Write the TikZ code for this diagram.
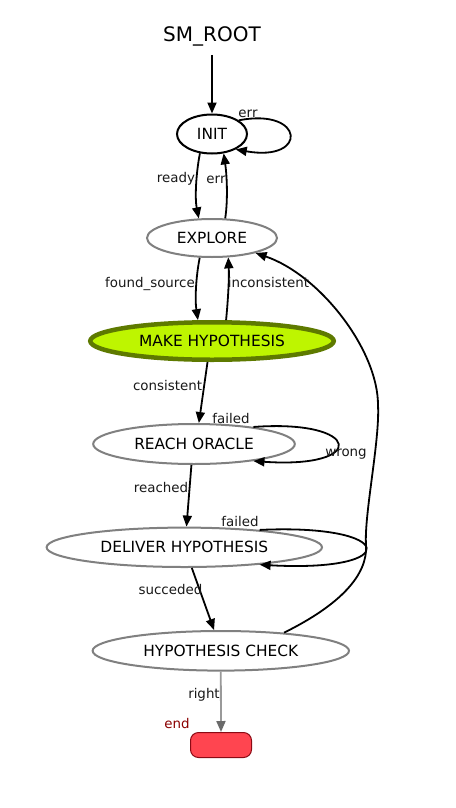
\documentclass[tikz,border=0pt]{standalone}
\usepackage{fontspec}
\setmainfont{DejaVu Sans}
\usetikzlibrary{shapes.geometric,arrows.meta}
\definecolor{edgegray}{HTML}{808080}
\definecolor{hypfill}{HTML}{BEF500}
\definecolor{hypdraw}{HTML}{5E7A00}
\definecolor{endfill}{HTML}{FF4550}
\definecolor{enddraw}{HTML}{8B0A14}
\definecolor{endtext}{HTML}{8B0000}
\definecolor{rightgray}{HTML}{999999}
\definecolor{tipgray}{HTML}{6A6A6A}
\begin{document}
\begin{tikzpicture}[x=1pt,y=1pt,
  st/.style={ellipse, draw=edgegray, line width=2pt, inner sep=0pt, font=\fontsize{15.4}{18}\selectfont},
  lbl/.style={anchor=mid, inner sep=0pt, font=\fontsize{13.4}{16}\selectfont, text=black!90},
  edge/.style={line width=1.8pt, -{Triangle[length=11pt,width=9pt]}},
]
\useasboundingbox (0,0) rectangle (455,-808);
\fill[white] (0,0) rectangle (455,-808);

% states
\node[anchor=base, inner sep=0pt, font=\fontsize{20}{24}\selectfont] (root) at (212,-41.8) {SM\_ROOT};
\coordinate (rootout) at (212,-55);
\node[st, draw=black, minimum width=70pt, minimum height=39pt] (INIT) at (212,-134) {INIT};
\node[st, minimum width=130pt, minimum height=38pt] (EXPLORE) at (212,-238) {EXPLORE};
\node[st, draw=hypdraw, fill=hypfill, line width=4.5pt, minimum width=243.5pt, minimum height=37.5pt] (MAKE) at (212,-341) {MAKE HYPOTHESIS};
\node[st, minimum width=201.6pt, minimum height=40pt] (REACH) at (194,-444) {REACH ORACLE};
\node[st, minimum width=275.4pt, minimum height=39.4pt] (DELIVER) at (184.3,-547.3) {DELIVER HYPOTHESIS};
\node[st, minimum width=256.4pt, minimum height=39.6pt] (CHECK) at (220.8,-650.8) {HYPOTHESIS CHECK};
\node[draw=enddraw, fill=endfill, rounded corners=8pt, line width=1pt, minimum width=61pt, minimum height=25pt, inner sep=0pt] (END) at (221,-745) {};

% transitions
\draw[edge] (rootout) -- (INIT.north);
\draw[edge] (INIT.27) .. controls +(66,13) and +(73,-13) .. (INIT.-33);
\draw[edge] (INIT.-122) .. controls +(-4,-20) and +(-4,20) .. (EXPLORE.124);
\draw[edge] (EXPLORE.56) .. controls +(3,20) and +(3,-20) .. (INIT.-59);
\draw[edge] (EXPLORE.-122) .. controls +(-4,-20) and +(-3,20) .. (MAKE.124);
\draw[edge] (MAKE.56) .. controls +(2,20) and +(1,-20) .. (EXPLORE.-50);
\draw[edge] (MAKE.-102) -- (REACH.77);
\draw[edge] (REACH.16) .. controls +(109,8) and +(115,-8) .. (REACH.-16);
\draw[edge] (REACH.-97) -- (DELIVER.84);
\draw[edge] (DELIVER.13) .. controls +(138,6.5) and +(144,-8) .. (DELIVER.-13);
\draw[edge] (DELIVER.-70) -- (CHECK.108);
\draw[edge] (CHECK.16) .. controls (340,-605) and (368,-575) .. (366,-545)
  .. controls (364,-515) and (380,-440) .. (378,-405)
  .. controls (378,-350) and (320,-275) .. (EXPLORE.-19);
\draw[line width=1.8pt, rightgray, -{Triangle[length=11pt,width=9pt,color=tipgray]}] (CHECK.south) -- (END.north);

% labels
\node[lbl] (l1) at (248,-115) {err};
\node[lbl] (l2) at (176,-180) {ready};
\node[lbl] (l3) at (216,-181) {err};
\node[lbl] (l4) at (150,-285) {found\_source};
\node[lbl] (l5) at (268.5,-285) {inconsistent};
\node[lbl] (l6) at (167.5,-388) {consistent};
\node[lbl] (l7) at (231,-421) {failed};
\node[lbl] (l8) at (346,-454) {wrong};
\node[lbl] (l9) at (161,-490) {reached};
\node[lbl] (l10) at (240,-524) {failed};
\node[lbl] (l11) at (170.5,-592) {succeded};
\node[lbl] (l12) at (204,-696) {right};
\node[lbl, text=endtext] (l13) at (177,-726) {end};
\end{tikzpicture}
\end{document}
